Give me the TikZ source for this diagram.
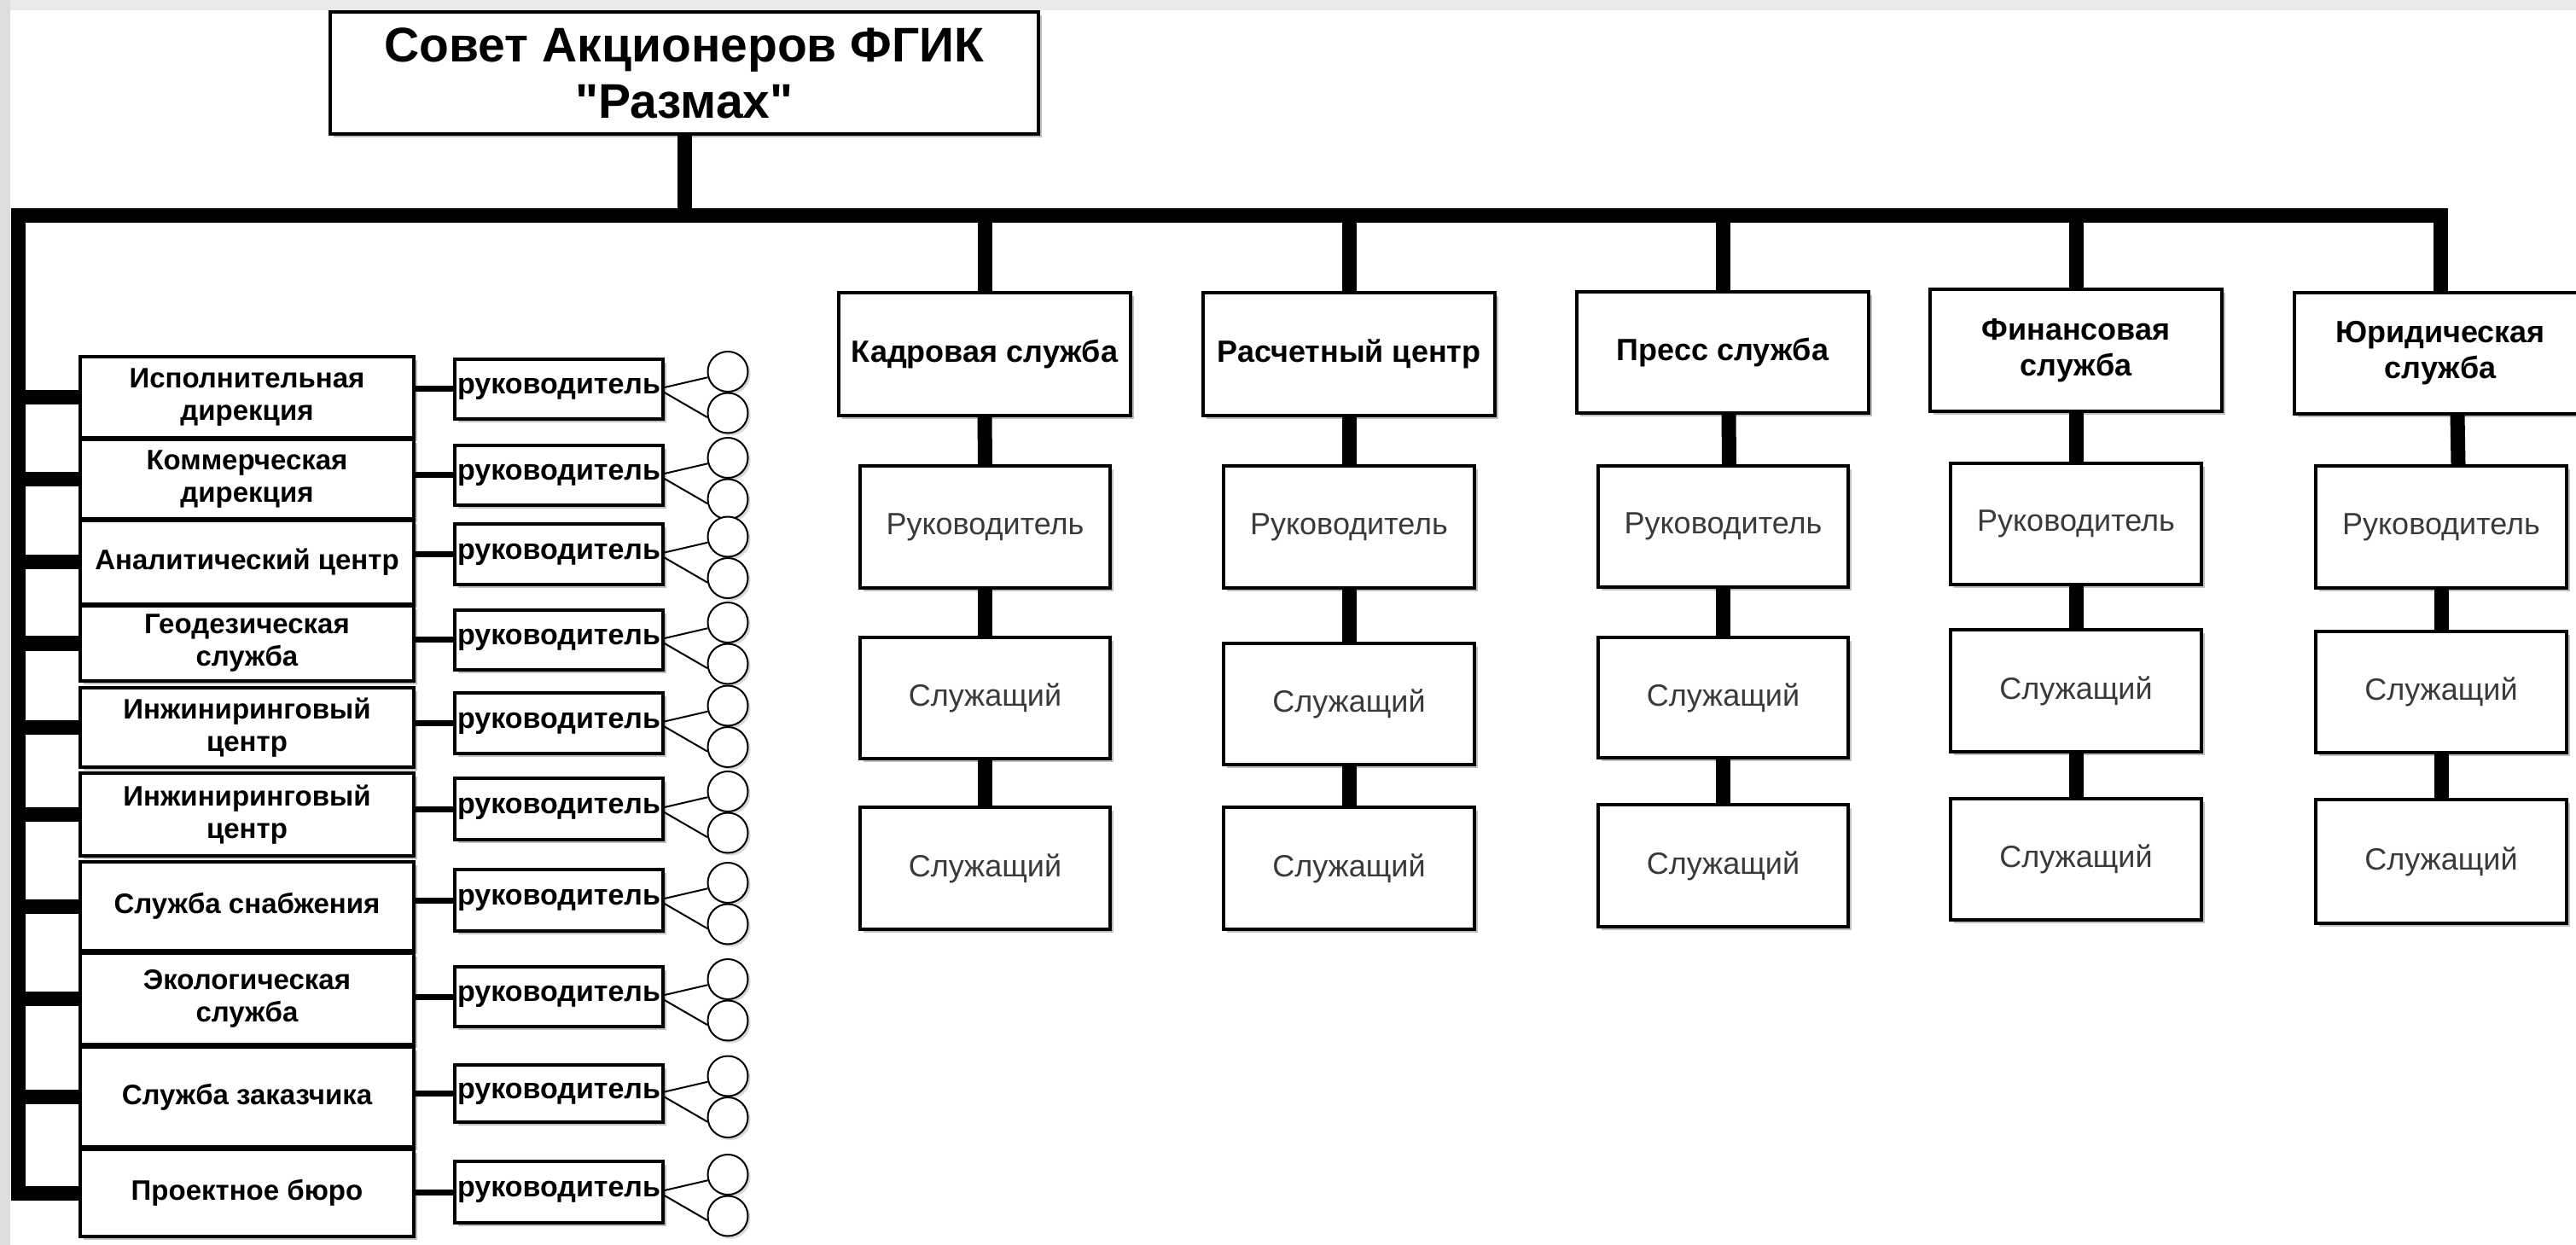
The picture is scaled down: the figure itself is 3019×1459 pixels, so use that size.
\documentclass[tikz,border=0pt]{standalone}
\usepackage{fontspec}
\setmainfont{Liberation Sans}[Ligatures=TeXOff]
\usetikzlibrary{shadows,calc}
\definecolor{topgray}{RGB}{234,234,234}
\definecolor{leftgray}{RGB}{221,221,221}
\definecolor{txtgray}{RGB}{58,58,58}
\newcommand\pbox[7]{\node[#2, minimum width={(#5-#3)*0.5pt}, minimum height={(#6-#4)*0.5pt}] (#1) at ({(#3+#5)/2},{(#4+#6)/2}) {#7};}
\tikzset{
  basebox/.style={draw, line width=1.75pt, fill=white, inner sep=0pt, align=center,
    drop shadow={shadow xshift=2.2pt, shadow yshift=-2.2pt, fill=black!25, opacity=1}},
  titlebox/.style={basebox, font=\fontsize{28.5}{33}\selectfont\bfseries},
  headbox/.style={basebox, font=\fontsize{18}{21}\selectfont\bfseries},
  staffbox/.style={basebox, text=txtgray, font=\fontsize{18}{21}\selectfont},
  deptbox/.style={basebox, font=\fontsize{16.5}{19}\selectfont\bfseries},
  bossbox/.style={basebox, font=\fontsize{17}{20}\selectfont\bfseries},
  circ/.style={circle, draw, line width=1pt, fill=white, minimum size=23.5pt, inner sep=0pt,
    drop shadow={shadow xshift=1.5pt, shadow yshift=-1.5pt, fill=black!15, opacity=1}},
  conn/.style={line width=8.5pt, line join=miter},
  midconn/.style={line width=3.5pt},
  thinconn/.style={line width=1pt},
}
\begin{document}
\begin{tikzpicture}[x=0.5pt, y=-0.5pt]
\useasboundingbox (0,0) rectangle (3019,1459);
\fill[white] (0,0) rectangle (3019,1459);
\fill[topgray] (0,0) rectangle (3019,12);
\fill[leftgray] (0,0) rectangle (12,1459);

% top box
\pbox{top}{titlebox}{387}{14}{1217}{157}{Совет Акционеров ФГИК\\"Размах"}

% right-hand services
\pbox{kad}{headbox}{983}{343}{1325}{487}{Кадровая служба}
\pbox{ras}{headbox}{1410}{343}{1752}{487}{Расчетный центр}
\pbox{pre}{headbox}{1848}{342}{2190}{484}{Пресс служба}
\pbox{fin}{headbox}{2262}{339}{2604}{482}{Финансовая\\служба}
\pbox{yur}{headbox}{2689}{343}{3031}{485}{Юридическая\\служба}

\pbox{kad1}{staffbox}{1008}{546}{1301}{689}{Руководитель}
\pbox{kad2}{staffbox}{1008}{747}{1301}{889}{Служащий}
\pbox{kad3}{staffbox}{1008}{946}{1301}{1089}{Служащий}
\pbox{ras1}{staffbox}{1434}{546}{1728}{689}{Руководитель}
\pbox{ras2}{staffbox}{1434}{754}{1728}{896}{Служащий}
\pbox{ras3}{staffbox}{1434}{946}{1728}{1089}{Служащий}
\pbox{pre1}{staffbox}{1873}{546}{2166}{688}{Руководитель}
\pbox{pre2}{staffbox}{1873}{747}{2166}{888}{Служащий}
\pbox{pre3}{staffbox}{1873}{943}{2166}{1086}{Служащий}
\pbox{fin1}{staffbox}{2286}{543}{2580}{685}{Руководитель}
\pbox{fin2}{staffbox}{2286}{738}{2580}{881}{Служащий}
\pbox{fin3}{staffbox}{2286}{936}{2580}{1078}{Служащий}
\pbox{yur1}{staffbox}{2714}{546}{3008}{689}{Руководитель}
\pbox{yur2}{staffbox}{2714}{740}{3008}{882}{Служащий}
\pbox{yur3}{staffbox}{2714}{937}{3008}{1082}{Служащий}

% left column
\foreach \i/\ya/\yb/\ra/\rb/\txt in {
  1/418/513/421/491/{Исполнительная\\дирекция},
  2/515/608/522/592/{Коммерческая\\дирекция},
  3/610/708/614/685/{Аналитический центр},
  4/710/798/715/785/{Геодезическая\\служба},
  5/806/899/812/883/{Инжиниринговый\\центр},
  6/906/1003/912/984/{Инжиниринговый\\центр},
  7/1010/1114/1019/1091/{Служба снабжения},
  8/1117/1224/1133/1203/{Экологическая\\служба},
  9/1227/1344/1248/1315/{Служба заказчика},
  10/1347/1449/1361/1433/{Проектное бюро}}{
  \pbox{d\i}{deptbox}{94}{\ya}{485}{\yb}{\txt}
  \pbox{r\i}{bossbox}{533}{\ra}{777}{\rb}{руководитель}
  \node[circ] (ca\i) at (853,{(\ra+\rb)/2-20.5}) {};
  \node[circ] (cb\i) at (853,{(\ra+\rb)/2+28}) {};
  \draw[midconn] (r\i.west -| d\i.east) -- (r\i.west);
  \draw[thinconn] ([yshift=1pt]r\i.east) -- (ca\i.196);
  \draw[thinconn] ([yshift=-2pt]r\i.east) -- (cb\i.192);
}

% main bus
\coordinate (lt) at (21,252.5);
\draw[conn] (yur.north) |- (lt) |- (d10.west);
\draw[conn] (top.south) -- (top.south |- lt);
\foreach \n in {kad,ras,pre,fin}{
  \draw[conn] (\n.north |- lt) -- (\n.north);
}
\foreach \i in {1,...,9}{
  \draw[conn] (d\i.west -| lt) -- (d\i.west);
}

% column connectors
\draw[conn] (kad.south) -- (kad1.north);
\draw[conn] (kad1.south) -- (kad2.north);
\draw[conn] (kad2.south) -- (kad3.north);
\draw[conn] (ras.south) -- (ras1.north);
\draw[conn] (ras1.south) -- (ras2.north);
\draw[conn] (ras2.south) -- (ras3.north);
\draw[conn] ([xshift=3.5pt]pre.south) -- ([xshift=3.5pt]pre1.north);
\draw[conn] (pre1.south) -- (pre2.north);
\draw[conn] (pre2.south) -- (pre3.north);
\draw[conn] (fin.south) -- (fin1.north);
\draw[conn] (fin1.south) -- (fin2.north);
\draw[conn] (fin2.south) -- (fin3.north);
\draw[conn] ([xshift=10pt]yur.south) -- ([xshift=10pt]yur1.north);
\draw[conn] (yur1.south) -- (yur2.north);
\draw[conn] (yur2.south) -- (yur3.north);
\end{tikzpicture}
\end{document}
